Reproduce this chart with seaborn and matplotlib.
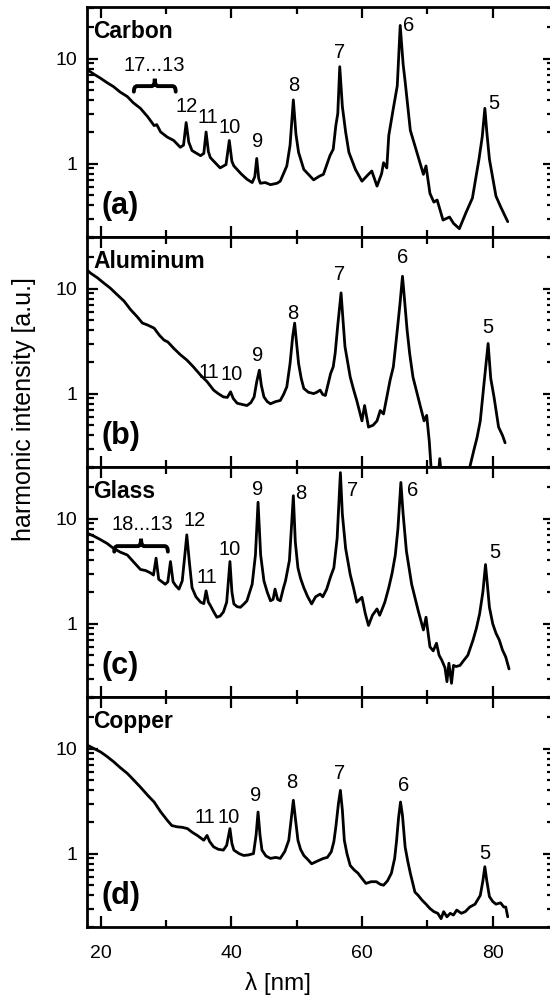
import numpy as np
import pandas as pd
import matplotlib
matplotlib.use("Agg")
import matplotlib.pyplot as plt
import matplotlib.ticker as mticker
from matplotlib.path import Path
from matplotlib.patches import PathPatch
import seaborn as sns

# ---------------- spectra: wavelength [nm] and harmonic intensity [a.u.] ----------------
carbon_nm = [17.9, 19.0, 20.0, 21.0, 22.0, 23.0, 24.1, 25.0, 26.1, 27.2, 28.2, 28.6, 29.2, 30.2,
             31.2, 32.2, 32.7, 33.1, 33.5, 34.0, 35.3, 35.8, 36.15, 36.5, 36.8, 38.3, 39.2, 39.7,
             40.1, 40.4, 41.5, 42.4, 43.2, 43.6, 43.9, 44.2, 44.45, 45.2, 46.0, 47.0, 47.5, 48.5,
             49.0, 49.5, 49.9, 50.3, 51.1, 52.6, 53.5, 54.1, 55.1, 55.6, 56.0, 56.3, 56.6, 57.0,
             57.5, 58.0, 59.0, 60.0, 60.9, 61.5, 62.3, 63.0, 63.3, 63.8, 64.1, 64.8, 65.4, 65.85,
             66.3, 66.6, 67.4, 68.4, 69.4, 69.8, 70.4, 71.0, 71.5, 72.4, 73.4, 74.0, 74.9, 75.9,
             76.9, 77.9, 78.4, 78.8, 79.1, 79.5, 80.5, 81.2, 82.3]
carbon_int = [7.9, 7.1, 6.5, 5.9, 5.4, 4.8, 4.35, 3.8, 3.36, 2.8, 2.3, 2.35, 2.0, 1.79,
              1.66, 1.43, 1.5, 2.46, 1.6, 1.33, 1.19, 1.25, 2.0, 1.3, 1.14, 0.91, 0.98, 1.66,
              1.05, 0.95, 0.8, 0.71, 0.66, 0.75, 1.12, 0.72, 0.65, 0.66, 0.63, 0.65, 0.68, 0.95,
              1.5, 4.04, 1.9, 1.28, 0.88, 0.7, 0.76, 0.79, 1.19, 1.37, 2.3, 3.0, 8.37, 3.5,
              2.0, 1.28, 0.88, 0.68, 0.78, 0.85, 0.61, 0.8, 1.02, 0.91, 1.85, 3.36, 5.5, 20.7,
              8.8, 6.08, 2.07, 1.28, 0.79, 0.95, 0.52, 0.43, 0.45, 0.29, 0.31, 0.27, 0.24, 0.34,
              0.47, 1.1, 1.8, 3.36, 2.0, 1.1, 0.49, 0.39, 0.28]

aluminum_nm = [17.85, 18.5, 19.5, 20.5, 21.5, 22.5, 23.6, 24.6, 25.6, 26.4, 27.2, 28.2, 29.0,
               29.7, 30.3, 31.2, 32.2, 33.2, 34.2, 35.3, 36.3, 37.3, 38.0, 38.8, 39.4, 39.9,
               40.3, 40.9, 41.6, 42.4, 43.0, 43.5, 43.9, 44.3, 44.6, 45.0, 45.5, 46.0, 46.8,
               47.5, 48.0, 48.5, 49.0, 49.4, 49.7, 50.0, 50.3, 50.7, 51.1, 51.8, 52.6, 53.1,
               53.6, 54.0, 54.4, 55.2, 55.6, 55.9, 56.3, 56.8, 57.1, 57.4, 58.2, 58.7, 59.2,
               60.0, 60.4, 61.0, 61.7, 62.3, 62.8, 63.3, 64.3, 64.8, 65.3, 65.8, 66.2, 66.5,
               66.9, 67.3, 67.8, 68.9, 69.5, 69.9, 70.3, 70.7, 71.5, 71.9, 72.2, 72.6, 76.0,
               76.5, 77.1, 77.6, 78.1, 78.7, 79.3, 79.7, 80.2, 80.9, 81.5, 81.9]
aluminum_int = [15.2, 14.0, 12.7, 11.3, 10.1, 8.8, 7.6, 6.3, 5.4, 4.7, 4.5, 4.2, 3.6,
                3.24, 3.1, 2.7, 2.35, 2.09, 1.8, 1.5, 1.3, 1.08, 1.0, 0.93, 0.92, 1.04,
                0.9, 0.81, 0.79, 0.77, 0.82, 0.93, 1.3, 1.67, 1.2, 0.93, 0.84, 0.8, 0.84,
                0.86, 0.98, 1.16, 1.94, 3.5, 4.69, 3.0, 1.94, 1.4, 1.12, 1.03, 1.0, 1.03,
                1.08, 0.98, 0.96, 1.55, 1.8, 2.42, 4.5, 9.1, 5.0, 2.8, 1.44, 1.1, 0.86,
                0.55, 0.77, 0.48, 0.5, 0.55, 0.69, 0.64, 1.34, 1.8, 3.5, 7.0, 13.1, 8.0,
                4.05, 2.4, 1.44, 0.77, 0.55, 0.62, 0.35, 0.15, 0.12, 0.24, 0.15, 0.12, 0.12,
                0.2, 0.286, 0.38, 0.55, 1.3, 3.0, 1.4, 0.93, 0.48, 0.4, 0.34]

glass_nm = [18.1, 19.0, 20.0, 21.0, 22.0, 23.0, 24.1, 25.0, 26.1, 26.9, 27.6, 28.1, 28.5, 28.9,
            29.9, 30.3, 30.7, 31.1, 31.5, 32.0, 32.5, 32.9, 33.2, 33.6, 34.0, 34.6, 35.3, 35.8,
            36.15, 36.5, 36.8, 37.3, 37.8, 38.3, 38.8, 39.3, 39.8, 40.1, 40.4, 40.9, 41.4, 42.0,
            42.4, 43.2, 43.7, 44.1, 44.5, 45.0, 45.5, 46.0, 46.4, 46.7, 47.1, 47.5, 48.0, 48.3,
            48.9, 49.5, 49.8, 50.2, 50.6, 51.1, 51.7, 52.3, 52.9, 53.6, 54.0, 54.6, 55.2, 55.7,
            56.2, 56.7, 57.0, 57.5, 58.2, 58.7, 59.2, 60.0, 60.5, 61.0, 61.6, 62.3, 62.7, 63.0,
            63.5, 64.1, 64.6, 65.1, 65.5, 65.95, 66.3, 66.8, 67.6, 68.6, 69.4, 69.8, 70.4, 70.9,
            71.4, 71.8, 72.2, 72.7, 73.0, 73.3, 73.7, 74.0, 74.4, 75.0, 75.5, 76.2, 77.0, 77.5,
            78.0, 78.5, 78.9, 79.2, 79.5, 80.0, 80.5, 81.0, 81.5, 82.0, 82.5]
glass_int = [7.2, 6.8, 6.3, 5.8, 5.2, 4.8, 4.5, 3.9, 3.28, 3.2, 3.05, 2.9, 4.2, 2.64,
             2.37, 2.5, 3.9, 2.5, 2.3, 2.13, 2.55, 4.5, 7.0, 3.8, 2.2, 1.8, 1.6, 1.55,
             2.05, 1.6, 1.49, 1.3, 1.15, 1.18, 1.29, 1.6, 3.9, 2.0, 1.54, 1.45, 1.43, 1.55,
             1.65, 2.37, 4.5, 14.3, 4.5, 2.55, 2.0, 1.65, 1.7, 2.13, 1.7, 1.65, 2.2, 2.55,
             4.0, 16.5, 6.0, 3.4, 2.7, 2.2, 1.8, 1.54, 1.8, 1.91, 1.8, 2.13, 2.8, 3.4,
             6.5, 27.4, 11.0, 5.2, 2.94, 2.2, 1.6, 1.78, 1.25, 0.96, 1.2, 1.38, 1.2, 1.33,
             1.6, 2.2, 3.0, 4.5, 8.0, 22.1, 11.0, 4.9, 2.37, 1.33, 0.87, 1.15, 0.6, 0.55,
             0.65, 0.5, 0.45, 0.38, 0.28, 0.42, 0.27, 0.4, 0.39, 0.4, 0.44, 0.5, 0.7, 0.9,
             1.24, 2.0, 3.65, 2.3, 1.43, 1.0, 0.81, 0.7, 0.56, 0.48, 0.37]

copper_nm = [18.1, 19.0, 20.0, 21.0, 22.0, 23.0, 24.1, 25.1, 26.1, 27.2, 28.2, 29.2, 30.2, 30.9,
             31.7, 32.5, 33.3, 34.0, 34.8, 35.8, 36.3, 36.7, 37.3, 38.0, 38.8, 39.3, 39.8, 40.1,
             40.4, 41.2, 41.9, 42.6, 43.4, 43.8, 44.1, 44.4, 44.7, 45.3, 46.0, 46.8, 47.5, 48.2,
             48.8, 49.2, 49.5, 49.8, 50.2, 50.6, 51.1, 51.7, 52.3, 53.2, 54.1, 54.7, 55.3, 55.7,
             56.0, 56.4, 56.7, 57.0, 57.3, 57.7, 58.2, 58.8, 59.4, 60.0, 60.6, 61.4, 62.2, 62.8,
             63.3, 63.9, 64.5, 65.0, 65.3, 65.6, 65.9, 66.2, 66.6, 67.0, 67.4, 68.1, 68.6, 69.2,
             69.8, 70.4, 71.0, 71.6, 72.1, 72.5, 73.0, 73.5, 74.0, 74.5, 75.2, 75.8, 76.5, 77.3,
             78.1, 78.5, 78.8, 79.1, 79.5, 80.0, 80.5, 81.2, 81.7, 82.0, 82.3]
copper_int = [10.7, 10.0, 9.3, 8.4, 7.5, 6.6, 5.8, 5.0, 4.3, 3.6, 3.1, 2.5, 2.08, 1.85,
              1.8, 1.78, 1.73, 1.6, 1.49, 1.34, 1.49, 1.3, 1.16, 1.1, 1.08, 1.2, 1.73, 1.25,
              1.08, 1.0, 0.96, 0.97, 1.0, 1.5, 2.49, 1.5, 1.08, 0.95, 0.9, 0.92, 0.9, 1.05,
              1.34, 2.2, 3.22, 2.2, 1.34, 1.1, 0.96, 0.88, 0.8, 0.85, 0.9, 0.92, 1.04, 1.3,
              1.79, 3.0, 4.0, 2.6, 1.34, 1.0, 0.77, 0.7, 0.65, 0.58, 0.52, 0.54, 0.54, 0.51,
              0.5, 0.55, 0.65, 0.9, 1.34, 2.2, 3.1, 2.3, 1.16, 0.85, 0.65, 0.43, 0.4, 0.36,
              0.33, 0.3, 0.28, 0.27, 0.24, 0.28, 0.25, 0.27, 0.26, 0.29, 0.27, 0.28, 0.31, 0.33,
              0.4, 0.55, 0.75, 0.55, 0.39, 0.35, 0.33, 0.34, 0.31, 0.31, 0.25]

# ---------------- panel texts ----------------
targets = ["Carbon", "Aluminum", "Glass", "Copper"]
panel_tags = ["(a)", "(b)", "(c)", "(d)"]

# harmonic order labels: (text, wavelength, intensity level)
carbon_orders = [("12", 33.2, 3.48), ("11", 36.45, 2.72), ("10", 39.8, 2.23), ("9", 44.1, 1.62),
                 ("8", 49.5, 5.56), ("7", 56.5, 11.4), ("6", 67.1, 20.7), ("5", 80.1, 3.75),
                 ("17...13", 28.15, 8.6)]
aluminum_orders = [("11", 36.6, 1.58), ("10", 40.1, 1.53), ("9", 44.0, 2.33), ("8", 49.4, 5.76),
                   ("7", 56.6, 13.6), ("6", 66.2, 19.7), ("5", 79.2, 4.29)]
glass_orders = [("12", 34.4, 9.65), ("11", 36.3, 2.74), ("10", 39.7, 5.05), ("9", 44.0, 19.1),
                ("8", 50.7, 17.5), ("7", 58.5, 18.4), ("6", 67.8, 18.4), ("5", 80.3, 4.8),
                ("18...13", 26.4, 8.7)]
copper_orders = [("11", 35.9, 2.23), ("10", 39.6, 2.23), ("9", 43.8, 3.59), ("8", 49.3, 4.8),
                 ("7", 56.5, 5.78), ("6", 66.4, 4.48), ("5", 78.8, 1.0)]

# curly braces grouping the high orders: (x start, x end)
carbon_brace = (25.1, 31.5)
glass_brace = (22.1, 30.3)

panels = [
    (carbon_nm, carbon_int, carbon_orders, carbon_brace),
    (aluminum_nm, aluminum_int, aluminum_orders, None),
    (glass_nm, glass_int, glass_orders, glass_brace),
    (copper_nm, copper_int, copper_orders, None),
]

sns.set_theme(style="ticks")
plt.rcParams["font.family"] = ["Liberation Sans", "DejaVu Sans"]
plt.rcParams.update({
    "axes.linewidth": 2.0,
    "text.color": "black",
    "axes.labelcolor": "black",
    "xtick.color": "black",
    "ytick.color": "black",
    "axes.edgecolor": "black",
})


def draw_brace(ax, x0, x1, y_end=0.632, y_arm=0.656, y_tip=0.688, d=0.5):
    """Horizontal curly brace opening downward; x in data units, y in axes fraction."""
    xm = 0.5 * (x0 + x1)
    verts = [(x0, y_end), (x0, y_arm), (x0 + d, y_arm),
             (xm - d, y_arm), (xm, y_arm), (xm, y_tip),
             (xm, y_arm), (xm + d, y_arm),
             (x1 - d, y_arm), (x1, y_arm), (x1, y_end)]
    codes = [Path.MOVETO, Path.CURVE3, Path.CURVE3,
             Path.LINETO, Path.CURVE3, Path.CURVE3,
             Path.CURVE3, Path.CURVE3,
             Path.LINETO, Path.CURVE3, Path.CURVE3]
    patch = PathPatch(Path(verts, codes), fill=False, lw=2.8, color="black",
                      transform=ax.get_xaxis_transform(), capstyle="round")
    ax.add_patch(patch)


fig = plt.figure(figsize=(5.5, 9.98), dpi=100)
W, H = 550.0, 998.0
left_px, right_px = 87.0, 554.0
top_px, panel_px = 7.0, 230.0

axes = []
for i, (xs, ys, orders, brace) in enumerate(panels):
    bottom = (H - (top_px + panel_px * (i + 1))) / H
    ax = fig.add_axes([left_px / W, bottom, (right_px - left_px) / W, panel_px / H])
    df = pd.DataFrame({"wavelength": xs, "intensity": ys})
    sns.lineplot(data=df, x="wavelength", y="intensity", ax=ax, color="black",
                 lw=2.0, estimator=None, sort=False)
    ax.set_yscale("log")
    ax.set_xlim(17.93, 89.38)
    ax.set_ylim(0.2, 31)
    ax.xaxis.set_major_locator(mticker.MultipleLocator(20))
    ax.xaxis.set_minor_locator(mticker.MultipleLocator(10))
    ax.yaxis.set_major_locator(mticker.LogLocator(base=10, subs=(1.0,)))
    ax.yaxis.set_minor_locator(mticker.LogLocator(base=10, subs=np.arange(2, 10)))
    ax.yaxis.set_major_formatter(mticker.FuncFormatter(lambda v, _: f"{v:g}"))
    ax.yaxis.set_minor_formatter(mticker.NullFormatter())
    ax.tick_params(which="both", direction="in", top=True, right=True, width=1.6,
                   labelsize=14, colors="black")
    ax.tick_params(which="major", length=8)
    ax.tick_params(which="minor", length=5)
    ax.tick_params(axis="y", pad=7)
    ax.tick_params(axis="x", pad=13)
    ax.set_xlabel("")
    ax.set_ylabel("")
    for sp in ax.spines.values():
        sp.set_linewidth(2.0)
        sp.set_color("black")
    if i < 3:
        ax.tick_params(axis="x", labelbottom=False)

    ax.text(0.014, 0.892, targets[i], transform=ax.transAxes, ha="left", va="center",
            fontsize=16.5, fontweight="bold")
    ax.text(0.03, 0.135, panel_tags[i], transform=ax.transAxes, ha="left", va="center",
            fontsize=22, fontweight="bold")
    for label, xv, yv in orders:
        ax.text(xv, yv, label, ha="center", va="center", fontsize=14.5)
    if brace is not None:
        draw_brace(ax, *brace)
    axes.append(ax)

fig.text(0.506, 0.015, "λ [nm]", ha="center", va="center", fontsize=17.5)
fig.text(0.044, 0.590, "harmonic intensity [a.u.]", rotation=90, ha="center", va="center",
         fontsize=18)

fig.savefig("out.png", dpi=100)
